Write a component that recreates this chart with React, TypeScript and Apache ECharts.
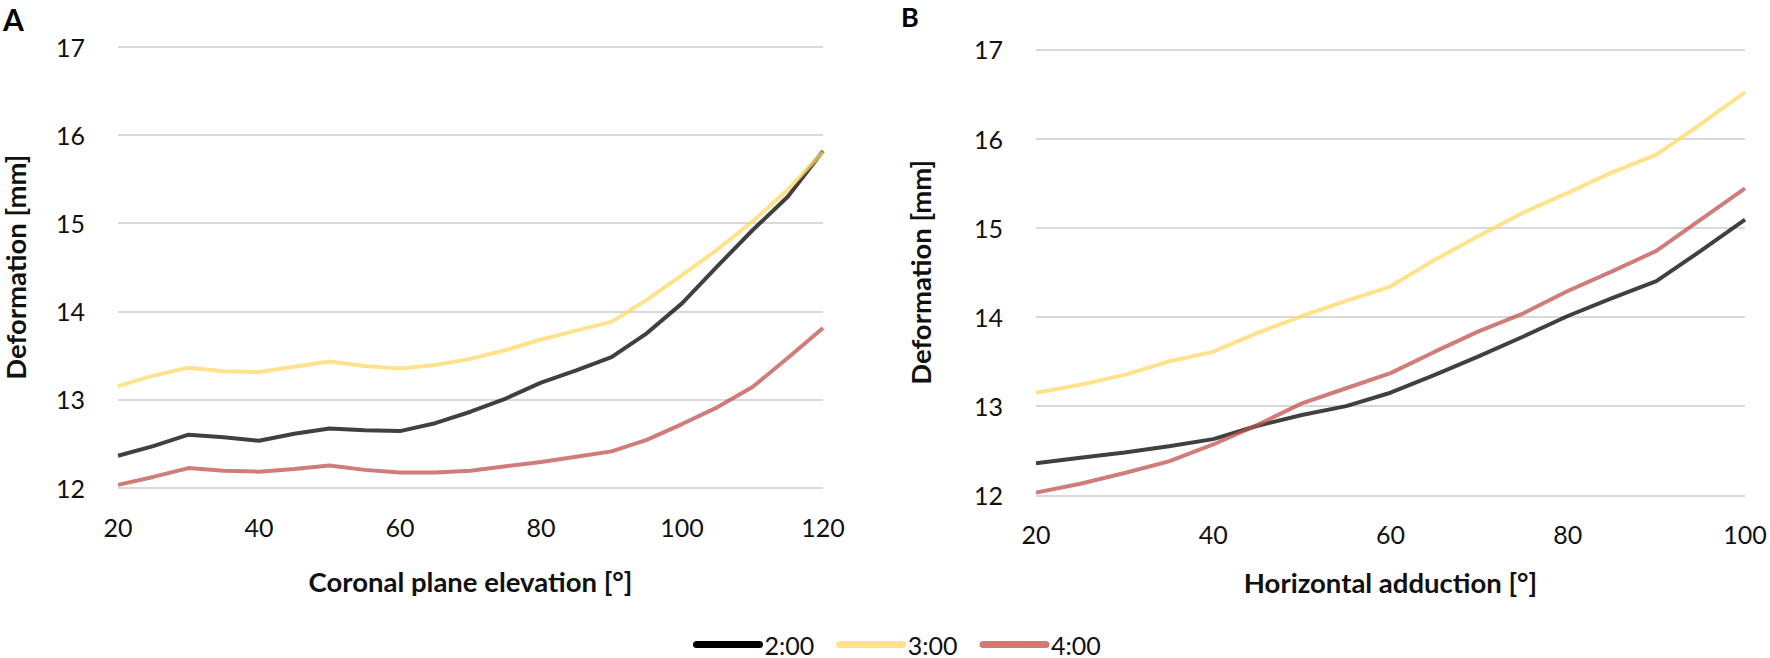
import React, { useEffect, useRef } from "react";
import * as echarts from "echarts";

// Panel A: coronal plane elevation [°]
const xA = [20, 25, 30, 35, 40, 45, 50, 55, 60, 65, 70, 75, 80, 85, 90, 95, 100, 105, 110, 115, 120];
const a200 = [12.36, 12.47, 12.6, 12.57, 12.53, 12.61, 12.67, 12.65, 12.64, 12.73, 12.86, 13.01, 13.19, 13.33, 13.48, 13.75, 14.09, 14.51, 14.92, 15.3, 15.82];
const a300 = [13.15, 13.27, 13.36, 13.32, 13.31, 13.37, 13.43, 13.38, 13.35, 13.39, 13.46, 13.56, 13.68, 13.78, 13.88, 14.13, 14.41, 14.7, 15.02, 15.38, 15.81];
const a400 = [12.03, 12.12, 12.22, 12.19, 12.18, 12.21, 12.25, 12.2, 12.17, 12.17, 12.19, 12.24, 12.29, 12.35, 12.41, 12.54, 12.72, 12.91, 13.14, 13.47, 13.81];

// Panel B: horizontal adduction [°]
const xB = [20, 25, 30, 35, 40, 45, 50, 55, 60, 65, 70, 75, 80, 85, 90, 95, 100];
const b200 = [12.36, 12.42, 12.48, 12.55, 12.63, 12.78, 12.9, 13.0, 13.15, 13.35, 13.56, 13.78, 14.01, 14.21, 14.4, 14.74, 15.09];
const b300 = [13.15, 13.24, 13.35, 13.5, 13.61, 13.82, 14.01, 14.18, 14.34, 14.64, 14.91, 15.17, 15.39, 15.62, 15.82, 16.16, 16.52];
const b400 = [12.03, 12.13, 12.25, 12.38, 12.57, 12.79, 13.03, 13.2, 13.37, 13.61, 13.84, 14.04, 14.29, 14.51, 14.74, 15.09, 15.44];

const seriesNames = ["2:00", "3:00", "4:00"];
const seriesColors = ["#000000", "#FFD966", "#C0504D"];
const legendColors = ["#000000", "#FFE38C", "#D47873"];
const yTicks = { min: 12, max: 17, interval: 1 };

const FONT = "Lato, 'Open Sans', 'Noto Sans', sans-serif";
const TXT = "#111111";

const zip = (xs: number[], ys: number[]) => xs.map((x, i) => [x, ys[i]]);

export default function App() {
  const ref = useRef<HTMLDivElement>(null);
  useEffect(() => {
    if (!ref.current) return;
    const chart = echarts.init(ref.current, null, { renderer: "svg" });

    const axisLabel = { fontSize: 25, fontFamily: FONT, color: TXT };
    const nameStyle = { fontSize: 27.5, fontWeight: "bold" as const, fontFamily: FONT, color: TXT };
    const splitLine = { show: true, lineStyle: { color: "#d9d9d9", width: 2 } };

    const mkX = (gridIndex: number, max: number, name: string, nameGap: number, margin: number) => ({
      type: "value",
      gridIndex,
      min: 20,
      max,
      interval: 20,
      name,
      nameLocation: "middle",
      nameGap,
      nameTextStyle: nameStyle,
      axisLine: { show: false },
      axisTick: { show: false },
      splitLine: { show: false },
      axisLabel: { ...axisLabel, margin },
    });
    const mkY = (gridIndex: number, nameGap: number) => ({
      type: "value",
      gridIndex,
      min: yTicks.min,
      max: yTicks.max,
      interval: yTicks.interval,
      name: "Deformation [mm]",
      nameLocation: "middle",
      nameRotate: 90,
      nameGap,
      nameTextStyle: nameStyle,
      axisLine: { show: false },
      axisTick: { show: false },
      splitLine,
      axisLabel: { ...axisLabel, margin: 33 },
    });

    const dataA = [a200, a300, a400];
    const dataB = [b200, b300, b400];
    const series: any[] = [];
    [0, 1].forEach((g) => {
      seriesNames.forEach((name, i) => {
        series.push({
          type: "line",
          name,
          xAxisIndex: g,
          yAxisIndex: g,
          data: g === 0 ? zip(xA, dataA[i]) : zip(xB, dataB[i]),
          symbol: "none",
          smooth: false,
          color: seriesColors[i],
          lineStyle: { color: seriesColors[i], width: 4, opacity: 0.75 },
          z: 3 + i,
        });
      });
    });

    chart.setOption({
      animation: false,
      backgroundColor: "#ffffff",
      textStyle: { fontFamily: FONT },
      grid: [
        { left: 117, top: 47, width: 706, height: 440.5 },
        { left: 1036, top: 49.3, width: 709, height: 446 },
      ],
      xAxis: [
        mkX(0, 120, "Coronal plane elevation [°]", 80, 27),
        mkX(1, 100, "Horizontal adduction [°]", 73, 26),
      ],
      yAxis: [mkY(0, 89), mkY(1, 102)],
      legend: {
        left: 693,
        top: 632,
        padding: 0,
        itemWidth: 63,
        itemHeight: 7,
        itemGap: 22,
        textStyle: { fontSize: 25, lineHeight: 24, fontFamily: FONT, color: TXT },
        data: seriesNames.map((n, i) => ({
          name: n,
          itemStyle: { color: legendColors[i], opacity: 1 },
          lineStyle: { color: legendColors[i], width: 7, opacity: 1, cap: "round" },
        })),
      },
      graphic: [
        {
          type: "text",
          left: 3,
          top: 4,
          style: { text: "A", fontSize: 30, fontWeight: "bold", fontFamily: FONT, fill: "#000" },
        },
        {
          type: "text",
          left: 901,
          top: 3,
          style: { text: "B", fontSize: 27, fontWeight: "bold", fontFamily: FONT, fill: "#000" },
        },
      ],
      series,
    });

    return () => chart.dispose();
  }, []);

  return (
    <div
      ref={ref}
      style={{ position: "absolute", left: 0, top: 0, width: 1770, height: 658, background: "#fff" }}
    />
  );
}
